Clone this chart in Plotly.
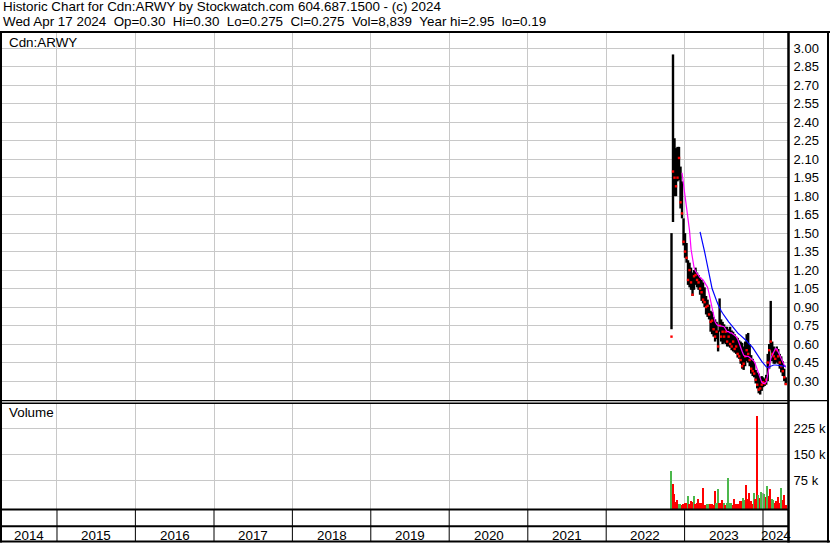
import plotly.graph_objects as go
import pandas as pd

W, H = 830, 543

# ---------------- data (weekly samples) ----------------
weeks = pd.date_range("2022-11-01", periods=77, freq="7D")

high = [1.50, 2.95, 2.27, 2.19, 2.20, 2.20, 2.04, 1.92, 1.62, 1.50,
        1.42, 1.28, 1.26, 1.22, 1.18, 1.20, 1.22, 1.18, 1.16, 1.14,
        1.12, 1.10, 1.06, 0.99, 0.96, 0.92, 0.87, 0.86, 0.82, 0.80,
        0.78, 0.71, 0.97, 0.80, 0.78, 0.76, 0.74, 0.74, 0.72, 0.74,
        0.71, 0.70, 0.68, 0.66, 0.65, 0.63, 0.62, 0.61, 0.58, 0.62,
        0.68, 0.69, 0.60, 0.51, 0.48, 0.45, 0.39, 0.37, 0.36, 0.33,
        0.34, 0.33, 0.32, 0.35, 0.52, 0.60, 0.95, 0.62, 0.58, 0.56,
        0.58, 0.56, 0.52, 0.50, 0.46, 0.40, 0.33]
low = [0.72, 1.59, 1.80, 1.80, 1.92, 1.93, 1.70, 1.62, 1.40, 1.30,
       1.26, 1.08, 1.06, 1.04, 0.99, 1.04, 1.08, 1.06, 1.04, 1.00,
       0.95, 0.93, 0.90, 0.84, 0.82, 0.80, 0.70, 0.68, 0.66, 0.62,
       0.64, 0.54, 0.70, 0.62, 0.60, 0.61, 0.60, 0.58, 0.58, 0.57,
       0.55, 0.54, 0.53, 0.52, 0.49, 0.48, 0.44, 0.40, 0.39, 0.42,
       0.46, 0.45, 0.42, 0.36, 0.34, 0.33, 0.28, 0.24, 0.20, 0.19,
       0.22, 0.25, 0.26, 0.27, 0.30, 0.40, 0.55, 0.46, 0.44, 0.44,
       0.45, 0.44, 0.40, 0.37, 0.34, 0.30, 0.27]
close = [0.66, 2.00, 1.95, 1.88, 1.95, 2.11, 1.75, 1.66, 1.43, 1.35,
         1.30, 1.12, 1.20, 1.10, 1.00, 1.15, 1.16, 1.12, 1.10, 1.05,
         1.02, 0.96, 0.94, 0.90, 0.91, 0.84, 0.78, 0.79, 0.72, 0.66,
         0.70, 0.58, 0.75, 0.66, 0.70, 0.66, 0.70, 0.62, 0.66, 0.60,
         0.58, 0.62, 0.56, 0.58, 0.52, 0.50, 0.47, 0.42, 0.44, 0.50,
         0.55, 0.52, 0.47, 0.40, 0.38, 0.36, 0.31, 0.27, 0.23, 0.24,
         0.27, 0.29, 0.28, 0.31, 0.45, 0.55, 0.62, 0.52, 0.50, 0.48,
         0.55, 0.50, 0.45, 0.42, 0.38, 0.33, 0.275]

ma_fast = [None] * 7 + [
    1.99, 1.90, 1.82, 1.72, 1.60, 1.52, 1.37, 1.30, 1.22, 1.19,
    1.17, 1.15, 1.14, 1.13, 1.12, 1.10, 1.08, 1.06, 1.01, 0.95,
    0.88, 0.83, 0.78, 0.76, 0.75, 0.75, 0.745, 0.74, 0.74, 0.72,
    0.70, 0.70, 0.69, 0.69, 0.68, 0.67, 0.66, 0.64, 0.60, 0.57,
    0.54, 0.51, 0.50, 0.50, 0.50, 0.49, 0.48, 0.475, 0.46, 0.43,
    0.39, 0.35, 0.31, 0.29, 0.28, 0.28, 0.29, 0.35, 0.44, 0.48,
    0.51, 0.53, 0.56, 0.56, 0.54, 0.51, 0.48, 0.45, 0.43, 0.41]
ma_slow = [None] * 19 + [
    1.51, 1.46, 1.42, 1.35, 1.29, 1.22, 1.16, 1.11, 1.05, 1.01,
    0.97, 0.95, 0.92, 0.89, 0.87, 0.85, 0.83, 0.815, 0.80, 0.78,
    0.765, 0.75, 0.73, 0.72, 0.70, 0.69, 0.68, 0.67, 0.66, 0.65,
    0.64, 0.625, 0.61, 0.60, 0.585, 0.57, 0.55, 0.54, 0.52, 0.50,
    0.48, 0.46, 0.445, 0.43, 0.415, 0.41, 0.415, 0.425, 0.43, 0.43,
    0.43, 0.43, 0.43, 0.425, 0.425, 0.42, 0.42, 0.42]

volume = [102000, 64000, 37000, 13000, 20000, 8000, 8000, 5000, 8000, 9000,
          9000, 30000, 7000, 15000, 12000, 30000, 7000, 10000, 21000, 9000,
          9000, 53000, 4000, 5000, 7000, 7000, 6000, 6000, 5000, 44000,
          10000, 50000, 9000, 9000, 20000, 9000, 5000, 9000, 82000, 9000,
          9000, 5000, 21000, 6000, 6000, 6000, 15000, 15000, 25000, 20000,
          62000, 23000, 40000, 15000, 8000, 40000, 21000, 260000, 33000, 25000,
          42000, 40000, 37000, 28000, 59000, 30000, 50000, 23000, 20000, 9000,
          15000, 27000, 10000, 54000, 20000, 33000, 4000]
vol_dir = ["u", "d", "d", "d", "d", "u", "u", "d", "d", "d",
           "d", "u", "d", "d", "d", "u", "d", "d", "d", "d",
           "d", "d", "d", "d", "u", "u", "d", "d", "d", "d",
           "u", "u", "d", "d", "d", "u", "d", "u", "u", "u",
           "u", "d", "d", "d", "d", "d", "d", "d", "u", "u",
           "d", "d", "d", "d", "d", "u", "d", "d", "u", "d",
           "u", "n", "u", "d", "u", "d", "d", "u", "u", "d",
           "d", "d", "d", "u", "d", "d", "d"]

price_ticks = [0.30, 0.45, 0.60, 0.75, 0.90, 1.05, 1.20, 1.35, 1.50, 1.65,
               1.80, 1.95, 2.10, 2.25, 2.40, 2.55, 2.70, 2.85, 3.00]
vol_ticks = [75000, 150000, 225000]
vol_tick_labels = ["75 k", "150 k", "225 k"]
years = list(range(2014, 2025))

title_line1 = "Historic Chart for Cdn:ARWY by Stockwatch.com 604.687.1500 - (c) 2024"
title_line2 = "\u00a0\u00a0".join(["Wed Apr 17 2024", "Op=0.30", "Hi=0.30", "Lo=0.275",
                                   "Cl=0.275", "Vol=8,839", "Year hi=2.95", "lo=0.19"])

# ---------------- styling ----------------
FONT = "Liberation Sans, Arial, sans-serif"
FS = 13.4
GRID = "#c8c8c8"
COLORS = {"u": "#4cb84c", "d": "#ff0000", "n": "#a0a0a0"}
x_start = pd.Timestamp("2014-04-20")
x_end = pd.Timestamp("2024-04-26 10:00")
VOL_BASE = -7000


def px(x):
    return x / W


def py(y):
    return 1 - y / H


fig = go.Figure()

hx, hy = [], []
for d, h, l in zip(weeks, high, low):
    hx += [d, d, None]
    hy += [l, h, None]
fig.add_trace(go.Scatter(x=hx, y=hy, mode="lines", line=dict(color="black", width=2.4),
                         xaxis="x", yaxis="y", hoverinfo="skip"))
fig.add_trace(go.Scatter(x=weeks, y=close, mode="markers",
                         marker=dict(color="#ff0000", size=2.4, symbol="square", line=dict(width=0)),
                         xaxis="x", yaxis="y"))
fig.add_trace(go.Scatter(x=weeks, y=ma_fast, mode="lines", line=dict(color="#ff00ff", width=1.2),
                         xaxis="x", yaxis="y"))
fig.add_trace(go.Scatter(x=weeks, y=ma_slow, mode="lines", line=dict(color="#0000ff", width=1.2),
                         xaxis="x", yaxis="y"))
fig.add_trace(go.Bar(x=weeks, y=[v - VOL_BASE for v in volume], base=VOL_BASE,
                     marker=dict(color=[COLORS[c] for c in vol_dir], line=dict(width=0)),
                     width=7 * 86400000, xaxis="x2", yaxis="y2"))

year_starts = [pd.Timestamp(f"{y}-01-01") for y in years[1:]]

common_x = dict(type="date", range=[x_start, x_end], domain=[px(2), px(788)],
                tickvals=year_starts, showticklabels=False, showgrid=True, gridcolor=GRID,
                gridwidth=1, zeroline=False, showline=False, ticks="")
common_y = dict(side="right", showgrid=True, gridcolor=GRID, gridwidth=1, zeroline=False,
                showline=False, ticks="outside", ticklen=2, tickcolor="rgba(0,0,0,0)",
                tickfont=dict(family=FONT, size=13, color="black"))

fig.update_layout(
    width=W, height=H, autosize=False,
    margin=dict(l=0, r=0, t=0, b=0, pad=0),
    paper_bgcolor="white", plot_bgcolor="white",
    showlegend=False, bargap=0,
    xaxis=dict(**common_x, anchor="y"),
    xaxis2=dict(**common_x, anchor="y2", matches="x"),
    yaxis=dict(**common_y, anchor="x", domain=[py(400), py(33)], range=[0.1458, 3.124],
               tickvals=price_ticks, ticktext=[f"{v:.2f}" for v in price_ticks]),
    yaxis2=dict(**common_y, anchor="x2", domain=[py(509), py(403)], range=[VOL_BASE, 297000],
                tickvals=vol_ticks, ticktext=vol_tick_labels),
)

shapes = []


def hline(y, x0, x1, w):
    shapes.append(dict(type="line", xref="paper", yref="paper", x0=px(x0), x1=px(x1),
                       y0=py(y), y1=py(y), line=dict(color="black", width=w)))


def vline(x, y0, y1, w):
    shapes.append(dict(type="line", xref="paper", yref="paper", x0=px(x), x1=px(x),
                       y0=py(y0), y1=py(y1), line=dict(color="black", width=w)))


hline(32, 0, 830, 2)
hline(541.5, 0, 830, 2)
vline(1, 31, 542.5, 2)
vline(828, 31, 542.5, 2)
vline(788.5, 31, 542.5, 2.5)
hline(400.6, 0, 828, 1.4)
hline(403.3, 0, 788, 1.4)
hline(509.4, 0, 788, 2)
hline(526.3, 0, 788, 2)
for ys in year_starts:
    shapes.append(dict(type="line", xref="x", yref="paper", x0=ys, x1=ys,
                       y0=py(510), y1=py(541), line=dict(color="black", width=1)))

annotations = [
    dict(text=title_line1, x=px(2), y=py(6.8), xanchor="left", yanchor="middle"),
    dict(text=title_line2, x=px(2), y=py(21.3), xanchor="left", yanchor="middle"),
    dict(text="Cdn:ARWY", x=px(8), y=py(42), xanchor="left", yanchor="middle"),
    dict(text="Volume", x=px(8), y=py(413), xanchor="left", yanchor="middle"),
]
for a in annotations:
    a.update(xref="paper", yref="paper", showarrow=False, borderpad=0,
             font=dict(family=FONT, size=FS, color="black"))

for y in years:
    s = max(x_start, pd.Timestamp(f"{y}-01-01"))
    e = min(x_end, pd.Timestamp(f"{y + 1}-01-01"))
    mid = s + (e - s) / 2
    annotations.append(dict(text=str(y), x=mid, xref="x", y=py(535.3), yref="paper",
                            xanchor="center", yanchor="middle", showarrow=False, borderpad=0,
                            font=dict(family=FONT, size=FS, color="black")))

fig.update_layout(shapes=shapes, annotations=annotations)
fig.write_html("out.html", config={"displayModeBar": False},
               post_script="document.body.style.margin='0';document.body.style.padding='0';")
